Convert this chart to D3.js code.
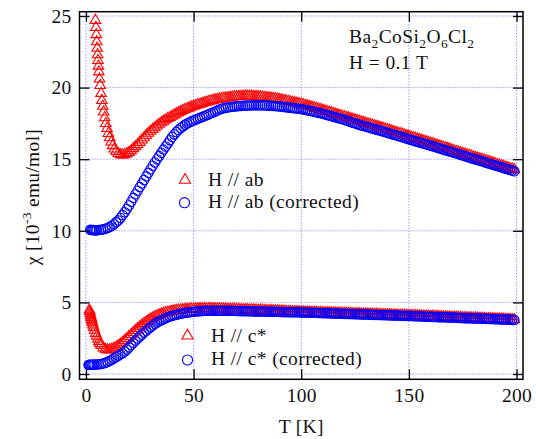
<!DOCTYPE html>
<html>
<head>
<meta charset="utf-8">
<script src="https://cdn.jsdelivr.net/npm/d3@7"></script>
<style>
  body { margin: 0; background: #fff; }
  svg { display: block; }
  svg text { font-family: "Liberation Serif", "Times New Roman", Tinos, serif; }
</style>
</head>
<body>
<div id="chart"></div>
<script>
// tick values
const xTicks = [0, 50, 100, 150, 200];
const yTicks = [0, 5, 10, 15, 20, 25];

// shared temperature grid from 28 K upward
const tTail = [
  28, 29, 30, 31, 32, 33, 34, 35, 36, 37, 38, 39, 40, 41, 42, 43, 44, 45, 46, 47,
  48, 49, 50, 51, 52, 53, 54, 55, 56, 57, 58, 59, 60, 61, 62, 63, 64, 65, 66, 67,
  68, 69, 70, 71, 72, 73, 74, 75, 76, 77, 78, 79, 80, 81, 82, 83, 84, 85, 86, 87,
  88, 89, 90, 91, 92, 93, 94, 95, 96, 97, 98, 99, 100, 101, 102, 103, 104, 105, 106, 107,
  108, 109, 110, 111, 112, 113, 114, 115, 116, 117, 118, 119, 120, 121, 122, 123, 124, 125, 126, 127,
  128, 129, 130, 131, 132, 133, 134, 135, 136, 137, 138, 139, 140, 141, 142, 143, 144, 145, 146, 147,
  148, 149, 150, 151, 152, 153, 154, 155, 156, 157, 158, 159, 160, 161, 162, 163, 164, 165, 166, 167,
  168, 169, 170, 171, 172, 173, 174, 175, 176, 177, 178, 179, 180, 181, 182, 183, 184, 185, 186, 187,
  188, 189, 190, 191, 192, 193, 194, 195, 196, 197, 198, 199];

// H // ab (raw)
const abRawLowT = [4.4, 4.6, 4.8, 5.0, 5.2, 5.4, 5.6, 5.8, 6.0, 6.3, 6.6, 7.0, 7.4, 7.8, 8.2, 8.7,
  9.2, 9.8, 10.4, 11.0, 11.7, 12.4, 13.2, 14.0, 15.0, 16.0, 17.0, 18, 19, 20, 21, 22, 23, 24, 25, 26, 27];
const abRawLowChi = [24.7, 24.2, 23.7, 23.2, 22.75, 22.3, 21.9, 21.5, 21.1, 20.6, 20.15, 19.6, 19.1, 18.7, 18.3, 17.9,
  17.5, 17.15, 16.8, 16.5, 16.2, 15.95, 15.72, 15.55, 15.4, 15.32, 15.3, 15.32, 15.39, 15.48, 15.6, 15.74, 15.88,
  16.02, 16.18, 16.34, 16.5];
const abRawTailChi = [
  16.66, 16.81, 16.95, 17.08, 17.2, 17.32, 17.44, 17.55, 17.65, 17.75, 17.84, 17.92, 18.0, 18.09, 18.17, 18.25, 18.33, 18.4, 18.47, 18.53,
  18.59, 18.65, 18.7, 18.75, 18.8, 18.85, 18.9, 18.95, 18.99, 19.03, 19.07, 19.11, 19.15, 19.18, 19.2, 19.23, 19.26, 19.28, 19.3, 19.32,
  19.34, 19.36, 19.37, 19.38, 19.39, 19.4, 19.4, 19.4, 19.4, 19.4, 19.39, 19.38, 19.37, 19.36, 19.34, 19.32, 19.3, 19.28, 19.26, 19.24,
  19.22, 19.2, 19.17, 19.14, 19.11, 19.08, 19.04, 19.0, 18.97, 18.94, 18.91, 18.88, 18.85, 18.8, 18.76, 18.72, 18.68, 18.63, 18.59, 18.55,
  18.51, 18.46, 18.42, 18.37, 18.33, 18.28, 18.24, 18.19, 18.15, 18.1, 18.06, 18.01, 17.97, 17.92, 17.88, 17.83, 17.79, 17.74, 17.7, 17.65,
  17.61, 17.56, 17.52, 17.47, 17.43, 17.38, 17.34, 17.29, 17.25, 17.2, 17.16, 17.11, 17.07, 17.02, 16.98, 16.93, 16.88, 16.83, 16.79, 16.74,
  16.69, 16.64, 16.6, 16.55, 16.51, 16.46, 16.41, 16.36, 16.32, 16.27, 16.22, 16.17, 16.13, 16.08, 16.03, 15.98, 15.94, 15.89, 15.84, 15.79,
  15.75, 15.7, 15.65, 15.6, 15.55, 15.5, 15.46, 15.41, 15.36, 15.31, 15.27, 15.22, 15.17, 15.12, 15.07, 15.02, 14.98, 14.93, 14.88, 14.83,
  14.79, 14.74, 14.69, 14.64, 14.59, 14.54, 14.5, 14.45, 14.4, 14.35, 14.31, 14.26];

// H // ab (corrected)
const abCorLowT = [2, 2.5, 3, 3.5, 4, 4.5, 5, 6, 7, 8, 9, 10, 11, 12, 13, 14, 15, 16, 17, 18, 19, 20,
  21, 22, 23, 24, 25, 26, 27];
const abCorLowChi = [10.07, 10.06, 10.05, 10.05, 10.04, 10.04, 10.04, 10.05, 10.07, 10.1, 10.14, 10.2,
  10.26, 10.35, 10.46, 10.59, 10.72, 10.9, 11.1, 11.3, 11.52, 11.77, 12.03, 12.3, 12.55, 12.8, 13.05, 13.3, 13.55];
const abCorTailChi = [
  13.8, 14.05, 14.3, 14.54, 14.77, 15.0, 15.22, 15.45, 15.67, 15.89, 16.1, 16.33, 16.55, 16.73, 16.9, 17.04, 17.18, 17.29, 17.4, 17.49,
  17.57, 17.64, 17.7, 17.77, 17.83, 17.89, 17.95, 18.01, 18.07, 18.13, 18.2, 18.26, 18.33, 18.4, 18.47, 18.52, 18.56, 18.59, 18.62, 18.64,
  18.66, 18.68, 18.7, 18.71, 18.72, 18.73, 18.74, 18.75, 18.75, 18.76, 18.76, 18.76, 18.76, 18.76, 18.76, 18.76, 18.75, 18.74, 18.73, 18.72,
  18.71, 18.7, 18.68, 18.67, 18.65, 18.63, 18.61, 18.59, 18.57, 18.56, 18.54, 18.52, 18.5, 18.47, 18.44, 18.41, 18.38, 18.35, 18.31, 18.28,
  18.24, 18.21, 18.17, 18.13, 18.09, 18.05, 18.01, 17.97, 17.92, 17.88, 17.84, 17.8, 17.75, 17.7, 17.65, 17.6, 17.55, 17.5, 17.45, 17.4,
  17.36, 17.32, 17.28, 17.24, 17.2, 17.15, 17.11, 17.06, 17.02, 16.98, 16.94, 16.9, 16.85, 16.8, 16.76, 16.71, 16.67, 16.62, 16.58, 16.53,
  16.49, 16.44, 16.4, 16.35, 16.31, 16.26, 16.22, 16.17, 16.13, 16.08, 16.04, 15.99, 15.95, 15.9, 15.86, 15.81, 15.77, 15.72, 15.68, 15.63,
  15.59, 15.54, 15.5, 15.45, 15.41, 15.36, 15.31, 15.26, 15.22, 15.17, 15.12, 15.07, 15.03, 14.98, 14.94, 14.89, 14.85, 14.8, 14.75, 14.7,
  14.66, 14.61, 14.57, 14.52, 14.48, 14.43, 14.39, 14.34, 14.3, 14.25, 14.21, 14.16];

// H // c* (raw)
const cRawLowT = [1.6, 1.8, 2.0, 2.2, 2.4, 2.6, 2.8, 3.0, 3.3, 3.6, 4.0, 4.5, 5.0, 5.5, 6.0, 6.5, 7.0,
  8, 9, 10, 11, 12, 13, 14, 15, 16, 17, 18, 19, 20, 21, 22, 23, 24, 25, 26, 27];
const cRawLowChi = [4.47, 4.35, 4.22, 4.08, 3.95, 3.82, 3.7, 3.58, 3.42, 3.26, 3.06, 2.84, 2.64, 2.45, 2.28, 2.13, 2.0,
  1.83, 1.73, 1.68, 1.69, 1.73, 1.8, 1.88, 1.98, 2.09, 2.21, 2.34, 2.48, 2.62, 2.76, 2.9, 3.04, 3.17, 3.3, 3.42, 3.53];
const cRawTailChi = [
  3.64, 3.74, 3.84, 3.92, 4.0, 4.07, 4.13, 4.19, 4.24, 4.28, 4.32, 4.36, 4.39, 4.42, 4.44, 4.46, 4.48, 4.5, 4.51, 4.52,
  4.53, 4.54, 4.54, 4.55, 4.55, 4.56, 4.56, 4.56, 4.56, 4.56, 4.56, 4.56, 4.55, 4.55, 4.55, 4.55, 4.54, 4.54, 4.53, 4.53,
  4.52, 4.52, 4.51, 4.51, 4.5, 4.5, 4.49, 4.49, 4.48, 4.48, 4.47, 4.47, 4.46, 4.46, 4.45, 4.44, 4.43, 4.43, 4.42, 4.42,
  4.41, 4.41, 4.4, 4.4, 4.39, 4.38, 4.37, 4.37, 4.36, 4.36, 4.35, 4.35, 4.34, 4.34, 4.33, 4.33, 4.32, 4.32, 4.31, 4.31,
  4.3, 4.3, 4.29, 4.29, 4.28, 4.28, 4.27, 4.27, 4.26, 4.26, 4.25, 4.25, 4.24, 4.24, 4.23, 4.23, 4.22, 4.22, 4.21, 4.21,
  4.2, 4.2, 4.19, 4.19, 4.18, 4.18, 4.17, 4.17, 4.16, 4.16, 4.15, 4.15, 4.14, 4.14, 4.13, 4.13, 4.12, 4.12, 4.11, 4.11,
  4.1, 4.1, 4.09, 4.09, 4.08, 4.08, 4.07, 4.06, 4.05, 4.05, 4.04, 4.04, 4.03, 4.03, 4.02, 4.02, 4.01, 4.0, 3.99, 3.99,
  3.98, 3.98, 3.97, 3.97, 3.96, 3.96, 3.95, 3.94, 3.93, 3.93, 3.92, 3.92, 3.91, 3.91, 3.9, 3.9, 3.89, 3.88, 3.87, 3.87,
  3.86, 3.86, 3.85, 3.85, 3.84, 3.84, 3.83, 3.82, 3.81, 3.81, 3.8, 3.8];

// H // c* (corrected)
const cCorLowT = [1.2, 1.5, 2, 2.5, 3, 3.5, 4, 5, 6, 7, 8, 9, 10, 11, 12, 13, 14, 15, 16, 17, 18, 19, 20,
  21, 22, 23, 24, 25, 26, 27];
const cCorLowChi = [0.63, 0.64, 0.64, 0.64, 0.65, 0.65, 0.66, 0.67, 0.68, 0.7, 0.73, 0.78, 0.84, 0.92, 1.0,
  1.09, 1.18, 1.28, 1.38, 1.45, 1.57, 1.71, 1.86, 2.02, 2.18, 2.33, 2.48, 2.62, 2.76, 2.89];
const cCorTailChi = [
  3.02, 3.15, 3.27, 3.39, 3.5, 3.59, 3.68, 3.76, 3.83, 3.9, 3.96, 4.01, 4.06, 4.1, 4.14, 4.18, 4.21, 4.24, 4.27, 4.29,
  4.31, 4.33, 4.35, 4.37, 4.38, 4.39, 4.4, 4.41, 4.41, 4.42, 4.42, 4.42, 4.42, 4.42, 4.42, 4.42, 4.42, 4.42, 4.41, 4.41,
  4.41, 4.41, 4.4, 4.4, 4.39, 4.39, 4.39, 4.39, 4.38, 4.38, 4.37, 4.37, 4.37, 4.37, 4.36, 4.36, 4.35, 4.35, 4.34, 4.34,
  4.34, 4.34, 4.33, 4.33, 4.32, 4.32, 4.32, 4.32, 4.31, 4.31, 4.31, 4.31, 4.3, 4.3, 4.29, 4.29, 4.28, 4.28, 4.27, 4.27,
  4.26, 4.26, 4.25, 4.25, 4.24, 4.24, 4.23, 4.23, 4.22, 4.22, 4.21, 4.21, 4.2, 4.2, 4.19, 4.19, 4.18, 4.18, 4.17, 4.17,
  4.16, 4.16, 4.15, 4.15, 4.14, 4.14, 4.13, 4.13, 4.12, 4.12, 4.11, 4.11, 4.1, 4.1, 4.09, 4.09, 4.08, 4.08, 4.07, 4.07,
  4.06, 4.06, 4.05, 4.05, 4.04, 4.04, 4.03, 4.03, 4.02, 4.01, 4.0, 4.0, 3.99, 3.99, 3.98, 3.98, 3.97, 3.97, 3.96, 3.96,
  3.95, 3.95, 3.94, 3.94, 3.93, 3.92, 3.91, 3.91, 3.9, 3.9, 3.89, 3.89, 3.88, 3.88, 3.87, 3.87, 3.86, 3.86, 3.85, 3.85,
  3.84, 3.84, 3.83, 3.83, 3.82, 3.81, 3.8, 3.8, 3.79, 3.79, 3.78, 3.77];

const width = 536, height = 439;
const red = "#ff0000", blue = "#0000ff";
const serif = '"Liberation Serif", "Times New Roman", Tinos, serif';

const svg = d3.select("#chart").append("svg")
  .attr("width", width)
  .attr("height", height);

const x = d3.scaleLinear().domain([-3, 203]).range([79.5, 523]);
const y = d3.scaleLinear().domain([-0.37, 25.3]).range([379.3, 11.7]);

// helper so every text gets the serif face
const txt = (sel, size, ls = 0) => sel.style("font-family", serif)
  .style("font-size", size + "px")
  .style("letter-spacing", ls + "px")
  .attr("fill", "#111");

// grid
const grid = svg.append("g")
  .attr("stroke", "#6a6aff")
  .attr("stroke-width", 1)
  .attr("stroke-dasharray", "1,2");
grid.selectAll(".gx").data(xTicks).enter().append("line")
  .attr("x1", d => x(d)).attr("x2", d => x(d))
  .attr("y1", y.range()[0]).attr("y2", y.range()[1]);
grid.selectAll(".gy").data(yTicks).enter().append("line")
  .attr("y1", d => y(d)).attr("y2", d => y(d))
  .attr("x1", x.range()[0]).attr("x2", x.range()[1]);

// series
const mk = (lowT, lowChi, tailChi) => {
  const t = lowT.concat(tTail), c = lowChi.concat(tailChi);
  if (t.length !== c.length) console.warn("length mismatch", t.length, c.length);
  return d3.zip(t, c).map(([t, c]) => ({t, c}));
};

const abRaw = mk(abRawLowT, abRawLowChi, abRawTailChi);
const abCor = mk(abCorLowT, abCorLowChi, abCorTailChi);
const cRaw = mk(cRawLowT, cRawLowChi, cRawTailChi);
const cCor = mk(cCorLowT, cCorLowChi, cCorTailChi);

const tri = d3.symbol(d3.symbolTriangle, 48);
const circ = d3.symbol(d3.symbolCircle, 70);

function drawSeries(data, sym, color) {
  svg.append("g").selectAll("path").data(data).enter().append("path")
    .attr("d", sym)
    .attr("transform", d => `translate(${x(d.t)},${y(d.c)})`)
    .attr("fill", "none")
    .attr("stroke", color)
    .attr("stroke-width", 1.1);
}
drawSeries(abRaw, tri, red);
drawSeries(abCor, circ, blue);
drawSeries(cRaw, tri, red);
drawSeries(cCor, circ, blue);

// axes, ticks pointing inward on all four sides
const [x0, x1] = x.range();
const [yb, yt] = y.range();
const axB = svg.append("g").attr("transform", `translate(0,${yb})`)
  .call(d3.axisBottom(x).tickValues(xTicks).tickSizeInner(-10).tickSizeOuter(0).tickPadding(9));
const axT = svg.append("g").attr("transform", `translate(0,${yt})`)
  .call(d3.axisTop(x).tickValues(xTicks).tickSizeInner(-10).tickSizeOuter(0).tickFormat(""));
const axL = svg.append("g").attr("transform", `translate(${x0},0)`)
  .call(d3.axisLeft(y).tickValues(yTicks).tickSizeInner(-10).tickSizeOuter(0).tickPadding(8));
const axR = svg.append("g").attr("transform", `translate(${x1},0)`)
  .call(d3.axisRight(y).tickValues(yTicks).tickSizeInner(-10).tickSizeOuter(0).tickFormat(""));
[axB, axT, axL, axR].forEach(a => {
  a.attr("font-family", null).attr("font-size", null);
  a.select(".domain").remove();
  a.selectAll("line").attr("stroke", "#000").attr("stroke-width", 1.3);
  txt(a.selectAll("text"), 19.5, 0.3);
});

// frame
svg.append("rect")
  .attr("x", x0).attr("y", yt)
  .attr("width", x1 - x0).attr("height", yb - yt)
  .attr("fill", "none").attr("stroke", "#000").attr("stroke-width", 1.5);

// axis titles
txt(svg.append("text"), 19.5, 0.3)
  .attr("x", (x0 + x1) / 2).attr("y", 433)
  .attr("text-anchor", "middle")
  .text("T [K]");

const yl = txt(svg.append("text"), 19.5, 0.3)
  .attr("transform", "translate(39,197) rotate(-90)")
  .attr("text-anchor", "middle");
yl.append("tspan").text("χ [10");
yl.append("tspan").style("font-size", "13.5px").attr("dy", -8).text("-3");
yl.append("tspan").attr("dy", 8).text(" emu/mol]");

// annotation
const ann = txt(svg.append("text"), 19.5, 0.4).attr("x", 349).attr("y", 42.7);
[["Ba", 0], ["2", 1], ["CoSi", 0], ["2", 1], ["O", 0], ["6", 1], ["Cl", 0], ["2", 1]].reduce((prev, [s, sub]) => {
  ann.append("tspan")
    .style("font-size", (sub ? 13.5 : 19.5) + "px")
    .attr("dy", sub === prev ? 0 : (sub ? 5 : -5))
    .text(s);
  return sub;
}, 0);
txt(svg.append("text"), 19.5, 0.4).attr("x", 349).attr("y", 69.3)
  .text("H = 0.1 T");

// legends
const legend = [
  {sym: tri, color: red, mx: 185, my: 180, tx: 208, ty: 186, label: "H // ab"},
  {sym: circ, color: blue, mx: 184.5, my: 202.7, tx: 208, ty: 208.3, label: "H // ab (corrected)"},
  {sym: tri, color: red, mx: 187.5, my: 335.7, tx: 211, ty: 341.7, label: "H // c*"},
  {sym: circ, color: blue, mx: 187.5, my: 360, tx: 211, ty: 365, label: "H // c* (corrected)"}
];
const lg = svg.append("g").selectAll("g").data(legend).enter().append("g");
lg.append("path")
  .attr("d", d => d.sym.size(d.sym === tri ? 55 : 80)())
  .attr("transform", d => `translate(${d.mx},${d.my})`)
  .attr("fill", "none").attr("stroke", d => d.color).attr("stroke-width", 1.1);
txt(lg.append("text"), 19.5, 0.4)
  .attr("x", d => d.tx).attr("y", d => d.ty)
  .text(d => d.label);
</script>
</body>
</html>
